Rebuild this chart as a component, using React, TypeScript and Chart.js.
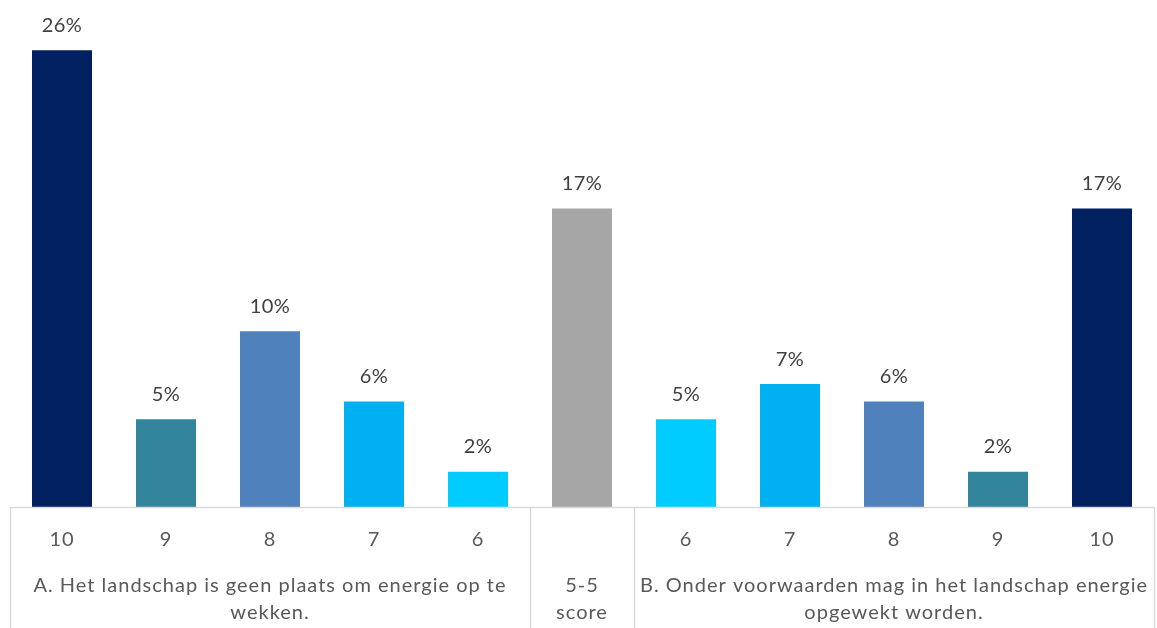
import React, { useEffect, useRef } from "react";
import { Chart, registerables } from "chart.js";

Chart.register(...registerables);

const categories = ["10", "9", "8", "7", "6", "5-5", "6", "7", "8", "9", "10"];
const values = [26, 5, 10, 6, 2, 17, 5, 7, 6, 2, 17];
const valueLabels = ["26%", "5%", "10%", "6%", "2%", "17%", "5%", "7%", "6%", "2%", "17%"];
const barColors = [
  "#002060", "#31849B", "#4F81BD", "#00B0F0", "#00CCFF",
  "#A6A6A6",
  "#00CCFF", "#00B0F0", "#4F81BD", "#31849B", "#002060",
];
// groups: [startIndex, endIndex, label lines]
const groupStarts = [0, 5, 6];
const groupEnds = [4, 5, 10];
const groupLabels = [
  ["A. Het landschap is geen plaats om energie op te", "wekken."],
  ["5-5", "score"],
  ["B. Onder voorwaarden mag in het landschap energie", "opgewekt worden."],
];
const showTick = [true, true, true, true, true, false, true, true, true, true, true];

const FONT = "Lato, 'Open Sans', sans-serif";

const axisPlugin = {
  id: "multiAxis",
  afterDraw(chart: any) {
    const ctx = chart.ctx;
    const area = chart.chartArea;
    const x = chart.scales.x;
    const H = chart.height;
    const n = categories.length;
    const step = (area.right - area.left) / n;
    ctx.save();
    ctx.strokeStyle = "#D9D9D9";
    ctx.lineWidth = 1.3;
    ctx.beginPath();
    ctx.moveTo(area.left, area.bottom + 0.5);
    ctx.lineTo(area.right, area.bottom + 0.5);
    const bounds = [0, ...groupEnds.map((e) => e + 1)];
    bounds.forEach((b) => {
      const px = Math.round(x.getPixelForValue(b) - step / 2) + 0.5;
      ctx.moveTo(px, area.bottom);
      ctx.lineTo(px, H);
    });
    ctx.stroke();

    ctx.fillStyle = "#595959";
    ctx.textAlign = "center";
    ctx.textBaseline = "middle";
    ctx.font = `20px ${FONT}`;
    (ctx as any).letterSpacing = "1px";
    categories.forEach((c, i) => {
      if (!showTick[i]) return;
      ctx.fillText(c, x.getPixelForValue(i), area.bottom + 33);
    });
    groupLabels.forEach((lines, g) => {
      const cx = (x.getPixelForValue(groupStarts[g]) + x.getPixelForValue(groupEnds[g])) / 2;
      lines.forEach((l, li) => {
        ctx.fillText(l, cx, area.bottom + 79 + li * 27);
      });
    });

    // data labels
    ctx.fillStyle = "#404040";
    (ctx as any).letterSpacing = "0.5px";
    const meta = chart.getDatasetMeta(0);
    meta.data.forEach((bar: any, i: number) => {
      ctx.fillText(valueLabels[i], bar.x, bar.y - 25);
    });
    ctx.restore();
  },
};

export default function App() {
  const ref = useRef<HTMLCanvasElement>(null);
  useEffect(() => {
    if (!ref.current) return;
    const chart = new Chart(ref.current, {
      type: "bar",
      data: {
        labels: categories,
        datasets: [
          {
            data: values,
            backgroundColor: barColors,
            borderWidth: 0,
            barPercentage: 0.577,
            categoryPercentage: 1,
          },
        ],
      },
      options: {
        animation: false,
        responsive: false,
        maintainAspectRatio: false,
        layout: { padding: { left: 10, right: 3, top: 17, bottom: 121 } },
        plugins: { legend: { display: false }, tooltip: { enabled: false } },
        scales: {
          x: { display: false },
          y: { display: false, min: 0, max: 27.9 },
        },
      },
      plugins: [axisPlugin],
    });
    return () => chart.destroy();
  }, []);
  return (
    <div style={{ position: "absolute", left: 0, top: 0, width: 1157, height: 628, background: "#fff" }}>
      <canvas ref={ref} width={1157} height={628} style={{ width: 1157, height: 628, display: "block" }} />
    </div>
  );
}
